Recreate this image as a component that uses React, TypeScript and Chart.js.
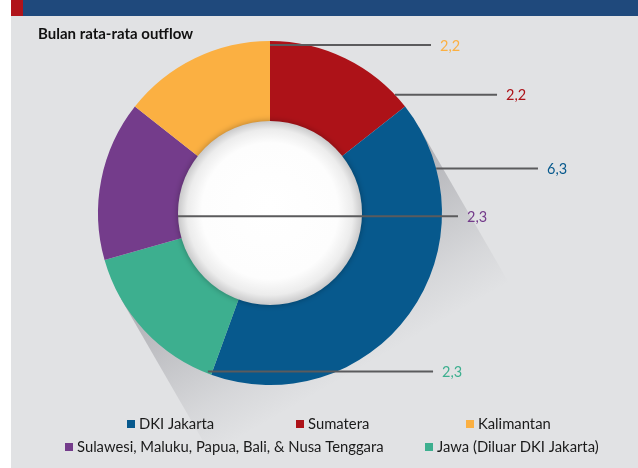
import React, { useEffect, useRef } from 'react';
import { Chart, registerables } from 'chart.js';

Chart.register(...registerables);

const chartTitle = 'Bulan rata-rata outflow';
const categories = [
  'Sumatera',
  'DKI Jakarta',
  'Jawa (Diluar DKI Jakarta)',
  'Sulawesi, Maluku, Papua, Bali, & Nusa Tenggara',
  'Kalimantan',
];
const values = [2.2, 6.3, 2.3, 2.3, 2.2];
const colors = ['#ad1218', '#07598d', '#3daf8f', '#743c8b', '#fbb042'];
const legendOrder = [1, 0, 4, 3, 2];

// leader layout: angle (deg from top, clockwise), start radius fraction, end x fraction of outer radius
const leaderLayout = [
  { angle: 46.6, r: 1.0, end: 1.32 },
  { angle: 75, r: 1.0, end: 1.558 },
  { angle: 201.4, r: 0.99, end: 0.948 },
  { angle: 268, r: 0.535, end: 1.093 },
  { angle: 0, r: 0.977, end: 0.936 },
];
// legend layout: [x, y] for each position in legendOrder
const legendPos = [
  [127, 424],
  [296, 424],
  [466, 424],
  [65, 447],
  [425, 447],
];

const FONT = 'Lato, "Open Sans", sans-serif';
const fmt = (v: number) => v.toFixed(1).replace('.', ',');

const decorPlugin = {
  id: 'decor',
  beforeDraw(chart: any) {
    const ctx = chart.ctx;
    ctx.save();
    ctx.fillStyle = '#ffffff';
    ctx.fillRect(0, 0, chart.width, chart.height);
    ctx.fillStyle = '#e1e2e4';
    ctx.fillRect(11, 16, chart.width - 11, chart.height - 16);
    ctx.fillStyle = '#1f497c';
    ctx.fillRect(23, 0, chart.width - 23, 16);
    ctx.fillStyle = '#b0131a';
    ctx.fillRect(11, 0, 12, 16);
    ctx.restore();
  },
  beforeDatasetsDraw(chart: any) {
    const arc = chart.getDatasetMeta(0).data[0];
    if (!arc) return;
    const ctx = chart.ctx;
    const cx = arc.x, cy = arc.y, R = arc.outerRadius;
    const dx = 0.5, dy = 0.866;
    const px = 0.866, py = -0.5;
    const L = 300;
    const p1 = [cx + R * px, cy + R * py];
    const p2 = [cx - R * px, cy - R * py];
    ctx.save();
    ctx.beginPath();
    ctx.moveTo(p1[0], p1[1]);
    ctx.lineTo(p2[0], p2[1]);
    ctx.lineTo(p2[0] + L * dx, p2[1] + L * dy);
    ctx.lineTo(p1[0] + L * dx, p1[1] + L * dy);
    ctx.closePath();
    const g = ctx.createLinearGradient(cx, cy, cx + 180 * dx, cy + 180 * dy);
    g.addColorStop(0, 'rgba(70,70,80,0.34)');
    g.addColorStop(0.4, 'rgba(70,70,80,0.2)');
    g.addColorStop(0.75, 'rgba(70,70,80,0.07)');
    g.addColorStop(1, 'rgba(70,70,80,0)');
    ctx.fillStyle = g;
    ctx.fill();
    ctx.restore();
  },
  afterDatasetsDraw(chart: any) {
    const meta = chart.getDatasetMeta(0);
    const arc = meta.data[0];
    if (!arc) return;
    const ctx = chart.ctx;
    const cx = arc.x, cy = arc.y, R = arc.outerRadius;
    const ir = R * 0.535;
    // white inner circle
    ctx.save();
    ctx.shadowColor = 'rgba(0,0,0,0.3)';
    ctx.shadowBlur = 6;
    ctx.beginPath();
    ctx.arc(cx, cy, ir, 0, Math.PI * 2);
    const rg = ctx.createRadialGradient(cx, cy - 8, 0, cx, cy, ir);
    rg.addColorStop(0, '#ffffff');
    rg.addColorStop(0.74, '#fdfdfd');
    rg.addColorStop(0.9, '#ececec');
    rg.addColorStop(1, '#c9c9ca');
    ctx.fillStyle = rg;
    ctx.fill();
    ctx.restore();

    // leader lines and value labels
    ctx.save();
    ctx.strokeStyle = '#5b5b5d';
    ctx.lineWidth = 2;
    ctx.font = `14.5px ${FONT}`;
    ctx.textBaseline = 'middle';
    ctx.textAlign = 'left';
    values.forEach((v, i) => {
      const l = leaderLayout[i];
      const a = (l.angle * Math.PI) / 180;
      const sx = cx + l.r * R * Math.sin(a);
      const sy = cy - l.r * R * Math.cos(a);
      const ex = cx + l.end * R;
      ctx.beginPath();
      ctx.moveTo(sx, sy);
      ctx.lineTo(ex, sy);
      ctx.stroke();
      ctx.fillStyle = colors[i];
      ctx.fillText(fmt(v), ex + 9, sy + 1);
    });
    ctx.restore();
  },
  afterDraw(chart: any) {
    const ctx = chart.ctx;
    ctx.save();
    ctx.font = `14.8px ${FONT}`;
    ctx.textBaseline = 'middle';
    ctx.textAlign = 'left';
    legendOrder.forEach((idx, k) => {
      const [x, y] = legendPos[k];
      ctx.fillStyle = colors[idx];
      ctx.fillRect(x, y - 4, 8, 8);
      ctx.fillStyle = '#1a1a1a';
      ctx.fillText(categories[idx], x + 12, y);
    });
    ctx.restore();
  },
};

export default function App() {
  const ref = useRef<HTMLCanvasElement | null>(null);
  useEffect(() => {
    if (!ref.current) return;
    const chart = new Chart(ref.current, {
      type: 'doughnut',
      data: {
        labels: categories,
        datasets: [
          {
            data: values,
            backgroundColor: colors,
            borderWidth: 0,
          },
        ],
      },
      options: {
        responsive: false,
        animation: false,
        cutout: '50%',
        layout: { padding: { left: 98, right: 196, top: 41, bottom: 83 } },
        plugins: {
          legend: { display: false },
          tooltip: { enabled: false },
        },
      },
      plugins: [decorPlugin],
    });
    return () => chart.destroy();
  }, []);
  return (
    <div style={{ position: 'fixed', left: 0, top: 0, width: 638, height: 468 }}>
      <canvas ref={ref} width={638} height={468} style={{ display: 'block' }} />
      <div
        style={{
          position: 'absolute',
          left: 38,
          top: 24,
          fontFamily: FONT,
          fontWeight: 700,
          fontSize: 15,
          color: '#111',
          lineHeight: '18px',
        }}
      >
        {chartTitle}
      </div>
    </div>
  );
}
